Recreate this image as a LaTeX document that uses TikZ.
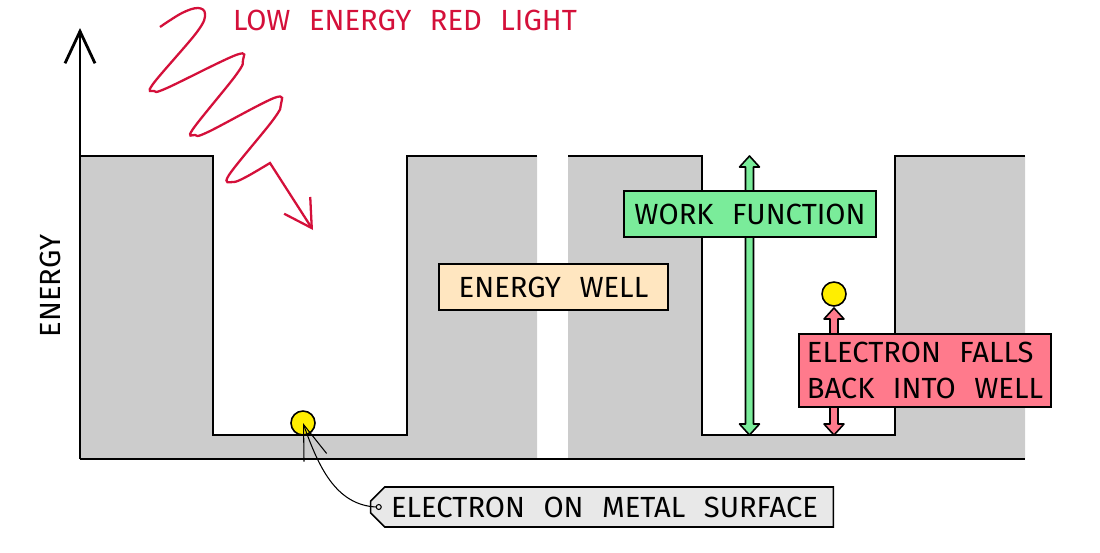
\documentclass[tikz,border=0pt]{standalone}
\usepackage{fontspec}
\setmainfont{Fira Sans}[WordSpace=2.4]
\usepackage{tikz}
\usetikzlibrary{arrows.meta, calc, positioning, shapes.misc}

\definecolor{metalgrey}{HTML}{CCCCCC}
\definecolor{wellpeach}{HTML}{FFE6C0}
\definecolor{workgreen}{HTML}{7AEC9A}
\definecolor{fallpink}{HTML}{FF7A8C}
\definecolor{lightred}{HTML}{D4103A}
\definecolor{tagfill}{HTML}{E8E8E8}
\definecolor{eyellow}{HTML}{FFEE00}

% fat double arrow: x, top y, bottom y, fill colour
\newcommand{\fatarrow}[4]{%
  \draw[line width=0.9pt, fill=#4, line join=round]
    ({#1-4},{#2+11}) -- ({#1-10},{#2+11}) -- (#1,#2) -- ({#1+10},{#2+11})
    -- ({#1+4},{#2+11}) -- ({#1+4},{#3-11}) -- ({#1+10},{#3-11}) -- (#1,#3)
    -- ({#1-10},{#3-11}) -- ({#1-4},{#3-11}) -- cycle;}

\begin{document}
\begin{tikzpicture}[x=0.02cm, y=-0.02cm,
  every node/.style={font=\fontsize{16.6}{20}\selectfont},
  box/.style={draw, line width=0.9pt, inner sep=0pt, minimum height=0.92cm},
  electron/.style={circle, draw, line width=0.9pt, fill=eyellow, minimum size=0.48cm, inner sep=0pt},
  wall/.style={line width=1.6pt}]

\useasboundingbox (0,0) rectangle (1100,552);

% Metal
\fill[metalgrey] (80,156) -- (213,156) -- (213,435) -- (407,435) -- (407,156)
  -- (537,156) -- (537,459) -- (80,459) -- cycle;
\fill[metalgrey] (568,156) -- (702,156) -- (702,435) -- (895,435) -- (895,156)
  -- (1025,156) -- (1025,459) -- (568,459) -- cycle;
\draw[wall] (80,156) -- (213,156) -- (213,435) -- (407,435) -- (407,156) -- (537,156);
\draw[wall] (568,156) -- (702,156) -- (702,435) -- (895,435) -- (895,156) -- (1025,156);
\draw[wall] (80,459) -- (1025,459);

% Energy axis
\draw[wall, -{Straight Barb[length=6.4mm, width=6mm]}] (80,459) -- (80,28);
\node[rotate=90] (energy) at (50,286) {ENERGY};

% Incoming light
\draw[lightred, line width=1.3pt, -{Straight Barb[length=5.4mm, width=6.2mm]}]
  plot[smooth, tension=0.6] coordinates {(160,27) (182,13) (198,8) (205,14) (197,32)
    (153,84) (154,91) (167,88) (236,55) (243,60) (236,75) (193,129) (195,135)
    (208,132) (274,98) (281,104) (273,120) (229,175) (233,182) (246,177) (270,163)}
  -- (313,230);
\node[lightred] (light) at (405,20) {LOW ENERGY RED LIGHT};

% Electrons
\node[electron] (e1) at (303,423) {};
\node[electron] (e2) at (834,294) {};

% Arrows
\fatarrow{749.5}{156}{435}{workgreen}
\fatarrow{834}{308}{435}{fallpink}

% Labels
\node[box, fill=wellpeach, minimum width=4.58cm] (well) at (553.5,287) {ENERGY WELL};
\node[box, fill=workgreen, minimum width=5.04cm] (wf) at (750,214) {WORK FUNCTION};
\node[box, fill=fallpink, minimum width=5.04cm, align=flush left,
  minimum height=1.46cm] (falls) at (925,370.5) {ELECTRON FALLS\\BACK INTO WELL};
\node[draw, line width=0.9pt, fill=tagfill, chamfered rectangle,
  chamfered rectangle corners={north west, south west}, chamfered rectangle xsep=0.16cm,
  minimum width=9.26cm, minimum height=0.8cm, inner sep=0pt] (surf) at (602,507)
  {\hspace{0.1cm}ELECTRON ON METAL SURFACE};

% Pointer to the electron
\coordinate (pin) at ([xshift=0.18cm]surf.west);
\draw[line width=0.6pt] (pin) circle (2.5);
\draw[line width=0.6pt, -{Straight Barb[length=7mm, width=4.8mm]}]
  ([xshift=-0.05cm]pin) .. controls (335,505) and (318,465) .. (e1.center);

\end{tikzpicture}
\end{document}
